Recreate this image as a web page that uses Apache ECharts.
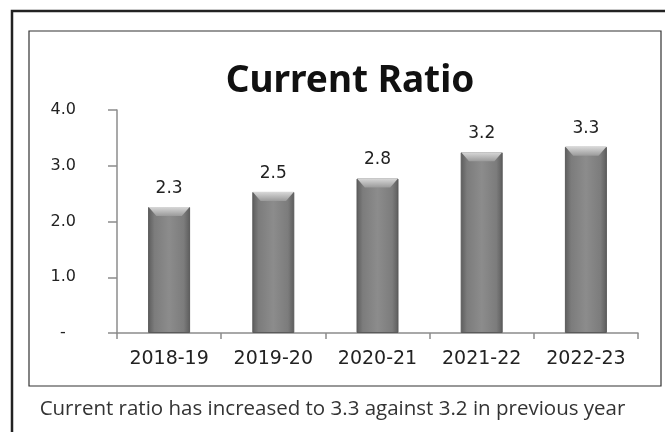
<!DOCTYPE html>
<html>
<head>
<meta charset="utf-8">
<script src="https://cdn.jsdelivr.net/npm/echarts@6/dist/echarts.min.js"></script>
<style>
  html, body { margin: 0; padding: 0; background: #fff; }
  #chart { width: 665px; height: 432px; }
</style>
</head>
<body>
<div id="chart"></div>
<script>
'use strict'
// data
const years = ['2018-19', '2019-20', '2020-21', '2021-22', '2022-23'];
const ratio = [2.26, 2.53, 2.77, 3.24, 3.34];
const yTicks = [0, 1, 2, 3, 4];
const caption = 'Current ratio has increased to 3.3 against 3.2 in previous year';

let chart = echarts.init(document.getElementById('chart'));

let option = {
  animation: false,
  title: {
    text: 'Current Ratio',
    left: 345,
    top: 58,
    textAlign: 'center',
    textStyle: {
      fontFamily: 'Noto Sans',
      fontWeight: 'bold',
      fontSize: 37,
      color: '#111'
    }
  },
  grid: {
    left: 117,
    right: 27,
    top: 110,
    bottom: 99
  },
  xAxis: {
    type: 'category',
    data: years,
    axisLine: { lineStyle: { color: '#8c8c8c', width: 1.5 } },
    axisTick: { show: true, length: 6, lineStyle: { color: '#8c8c8c', width: 1.5 } },
    axisLabel: {
      margin: 17,
      color: '#222',
      fontFamily: 'DejaVu Sans',
      fontSize: 19
    }
  },
  yAxis: {
    type: 'value',
    min: yTicks[0],
    max: yTicks[yTicks.length - 1],
    interval: 1,
    splitLine: { show: false },
    axisLine: { show: true, lineStyle: { color: '#8c8c8c', width: 1.5 } },
    axisTick: { show: true, length: 9, lineStyle: { color: '#8c8c8c', width: 1.5 } },
    axisLabel: {
      margin: 41,
      color: '#222',
      fontFamily: 'DejaVu Sans',
      fontSize: 16,
      formatter: (v) => v === 0 ? '-  ' : v.toFixed(1)
    }
  },
  series: [{
    type: 'bar',
    data: ratio,
    barWidth: 42,
    z: 2,
    itemStyle: {
      borderColor: '#5a5a5a',
      borderWidth: 1,
      color: new echarts.graphic.LinearGradient(0, 0, 1, 0, [
        { offset: 0, color: '#5c5c5c' },
        { offset: 0.15, color: '#7c7c7c' },
        { offset: 0.5, color: '#8c8c8c' },
        { offset: 0.85, color: '#7c7c7c' },
        { offset: 1, color: '#5c5c5c' }
      ])
    },
    label: {
      show: true,
      position: 'top',
      distance: 10,
      color: '#222',
      fontFamily: 'DejaVu Sans',
      fontSize: 17,
      formatter: (p) => p.value.toFixed(1)
    }
  }, {
    // light bevel on the top of each bar
    type: 'pictorialBar',
    data: ratio,
    z: 3,
    silent: true,
    symbol: 'path://M0,0 L42,0 L34,9 L8,9 Z',
    symbolSize: [41, 9],
    symbolPosition: 'end',
    itemStyle: {
      color: new echarts.graphic.LinearGradient(0, 0, 0, 1, [
        { offset: 0, color: '#d8d8d8' },
        { offset: 1, color: '#9a9a9a' }
      ])
    }
  }],
  graphic: [
    {
      type: 'rect',
      shape: { x: 12, y: 11, width: 700, height: 450 },
      style: { fill: 'none', stroke: '#222', lineWidth: 2.5 },
      silent: true
    },
    {
      type: 'rect',
      shape: { x: 29, y: 31, width: 632, height: 355 },
      style: { fill: 'none', stroke: '#333', lineWidth: 1.2 },
      silent: true
    },
    {
      type: 'text',
      left: 'center',
      top: 399,
      style: {
        text: caption,
        fontFamily: 'Open Sans',
        fontSize: 20.5,
        fill: '#333'
      }
    }
  ]
};
chart.setOption(option);
</script>
</body>
</html>
